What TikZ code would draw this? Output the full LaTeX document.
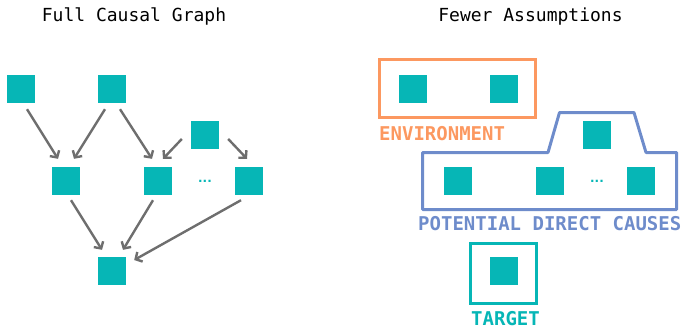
\documentclass[tikz,border=0pt]{standalone}
\usepackage{fontspec}
\setmonofont{DejaVu Sans Mono}
\newfontfamily\dotfont{DejaVu Sans}
\usetikzlibrary{arrows.meta}
\definecolor{varteal}{RGB}{6,182,182}
\definecolor{envorange}{RGB}{252,152,96}
\definecolor{pdcblue}{RGB}{110,140,203}
\definecolor{linkgray}{RGB}{110,110,110}
\begin{document}
\begin{tikzpicture}[x=1pt,y=-1pt,
    var/.style={fill=varteal,minimum size=28pt,inner sep=0pt},
    link/.style={draw=linkgray,line width=2.4pt,-{Straight Barb[length=5pt,width=11pt]}},
    title/.style={font=\ttfamily\fontsize{18}{18}\selectfont,anchor=base},
    tag/.style={font=\ttfamily\bfseries\fontsize{19}{19}\selectfont,anchor=base west,inner sep=0pt},
    dots/.style={font=\dotfont\bfseries\fontsize{12}{12}\selectfont,text=varteal,inner sep=0pt}]
    \useasboundingbox (0,0) rectangle (683,329);

    % Titulos
    \node[title] (t1) at (134,22) {Full Causal Graph};
    \node[title] (t2) at (530.5,22) {Fewer Assumptions};

    % Grafo completo
    \node[var] (a1) at (21,89) {};
    \node[var] (a2) at (112,89) {};
    \node[var] (a6) at (205,135) {};
    \node[var] (a3) at (66,181) {};
    \node[var] (a4) at (157.5,181) {};
    \node[var] (a5) at (249,181) {};
    \node[var] (ay) at (112,271) {};
    \node[dots] (ad) at (205,181.5) {...};

    \draw[link] ([shift={(6,6)}]a1.south) -- ([shift={(-8,-8)}]a3.north);
    \draw[link] ([shift={(-7,6)}]a2.south) -- ([shift={(8,-8)}]a3.north);
    \draw[link] ([shift={(8,6)}]a2.south) -- ([shift={(-5.5,-8)}]a4.north);
    \draw[link] ([shift={(-9,4)}]a6.west) -- ([shift={(5.5,-8)}]a4.north);
    \draw[link] ([shift={(9,4)}]a6.east) -- ([shift={(-2,-8)}]a5.north);
    \draw[link] ([shift={(5,5)}]a3.south) -- ([shift={(-10,-7)}]ay.north);
    \draw[link] ([shift={(-4.5,5)}]a4.south) -- ([shift={(11,-7)}]ay.north);
    \draw[link] ([shift={(-8,5)}]a5.south) -- ([shift={(8,-11)}]ay.east);

    % Menos supuestos
    \draw[envorange,line width=3pt] (379.5,59.5) rectangle (535.5,117.5);
    \draw[pdcblue,line width=3pt,line join=round] (422.5,152.5) -- (548,152.5) -- (559.5,112.5)
        -- (634,112.5) -- (646,152.5) -- (676.5,152.5) -- (676.5,209.5) -- (422.5,209.5) -- cycle;
    \draw[varteal,line width=3pt] (470.5,243.5) rectangle (536.5,303.5);

    \node[var] (e1) at (412.5,89) {};
    \node[var] (e2) at (504,89) {};
    \node[var] (p0) at (596.5,135) {};
    \node[var] (p1) at (458,181) {};
    \node[var] (p2) at (550,181) {};
    \node[var] (p3) at (641,181) {};
    \node[var] (y) at (504,271) {};
    \node[dots] (pd) at (597,181.5) {...};

    % Etiquetas
    \node[tag,text=envorange] (envlabel) at (379,140) {ENVIRONMENT};
    \node[tag,text=pdcblue] (pdclabel) at (418,230) {POTENTIAL DIRECT CAUSES};
    \node[tag,text=varteal] (ylabel) at (471,325) {TARGET};
\end{tikzpicture}
\end{document}
